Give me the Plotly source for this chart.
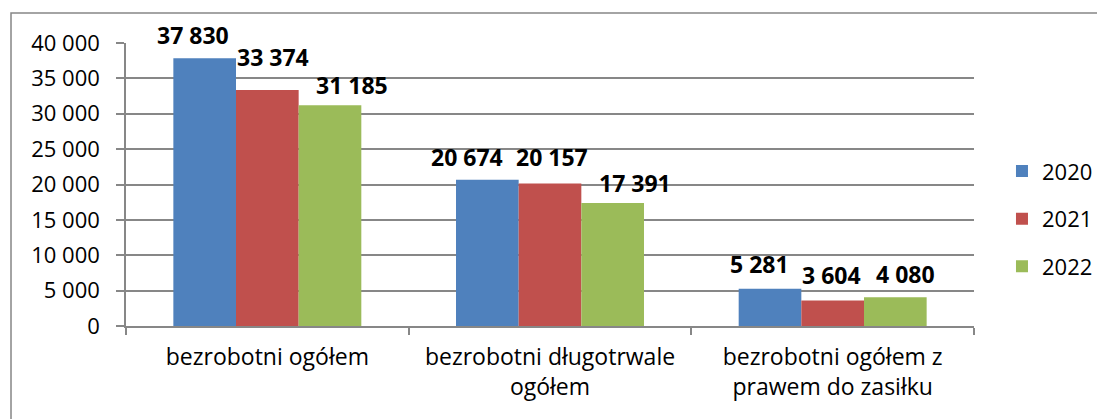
import plotly.graph_objects as go

# data
categories = ["bezrobotni ogółem", "bezrobotni długotrwale<br>ogółem", "bezrobotni ogółem z<br>prawem do zasiłku"]
years = ["2020", "2021", "2022"]
values_2020 = [37830, 20674, 5281]
values_2021 = [33374, 20157, 3604]
values_2022 = [31185, 17391, 4080]
y_ticks = [0, 5000, 10000, 15000, 20000, 25000, 30000, 35000, 40000]

series = [values_2020, values_2021, values_2022]
colors = ["#4F81BD", "#C0504D", "#9BBB59"]

# nudges of the value labels (px), as placed in the original
label_dx = [[-12, -20, -10], [6, 2, -1], [22, 22, 10]]
label_dy = [[23, 23, 25], [33, 26, 26], [20, 20, 23]]
bar_offsets = [-0.222, 0.0, 0.222]  # group slot of each series

FONT = "Open Sans"
GRID = "#878787"

x_pos = list(range(len(categories)))
fig = go.Figure()

for i, (year, vals) in enumerate(zip(years, series)):
    fig.add_trace(go.Bar(
        x=x_pos, y=vals, name=year,
        marker=dict(color=colors[i], line=dict(width=0)),
        legendgroup=year,
    ))
    for j, v in enumerate(vals):
        fig.add_annotation(
            x=x_pos[j] + bar_offsets[i], y=v, xref="x", yref="y",
            text="<b>" + f"{v:,}".replace(",", " ") + "</b>",
            showarrow=False, yanchor="middle",
            xshift=label_dx[i][j], yshift=label_dy[i][j],
            font=dict(family=FONT, size=23, color="#000000"),
        )

# page body has an 8px margin, so the figure is sized 8px smaller
fig.update_layout(
    width=1097, height=411,
    barmode="group", bargap=0.335, bargroupgap=0,
    paper_bgcolor="white", plot_bgcolor="white",
    margin=dict(l=118, r=131, t=35, b=93, autoexpand=False),
    separators=". ",
    font=dict(family=FONT, size=22, color="#000000"),
    legend=dict(
        x=1.033, y=0.379, xanchor="left", yanchor="middle",
        font=dict(family=FONT, size=22), tracegroupgap=16,
        bgcolor="rgba(0,0,0,0)",
    ),
    xaxis=dict(
        tickmode="array", tickvals=x_pos, ticktext=categories,
        range=[-0.5, 2.5], showgrid=False, zeroline=False,
        showline=True, linecolor=GRID, linewidth=1.5,
        ticks="", automargin=False, ticklabelstandoff=10,
        minor=dict(tickmode="array", tickvals=[-0.5, 0.5, 1.5, 2.5],
                   ticks="outside", ticklen=7, tickcolor=GRID, tickwidth=1.5),
        tickfont=dict(family=FONT, size=23),
    ),
    yaxis=dict(
        range=[0, 40000], tickmode="array", tickvals=y_ticks,
        tickformat=",d", showgrid=True, gridcolor=GRID, gridwidth=1.5,
        zeroline=False, showline=True, linecolor=GRID, linewidth=1.5,
        ticks="outside", ticklen=8, tickcolor=GRID, tickwidth=1.5,
        tickfont=dict(family=FONT, size=22), automargin=False,
        ticklabelstandoff=12,
    ),
    shapes=[dict(
        type="rect", xref="paper", yref="paper",
        x0=-0.1356, y0=-0.6, x1=1.3, y1=1.106,
        line=dict(color="#868686", width=1.5), fillcolor="rgba(0,0,0,0)",
        layer="below",
    )],
)

fig.write_html("out.html")
